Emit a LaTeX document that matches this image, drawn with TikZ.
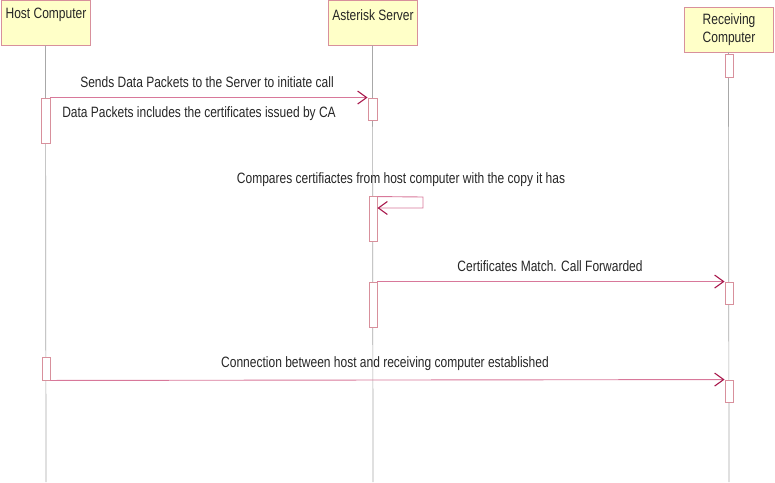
\documentclass[tikz,border=0pt]{standalone}
\usepackage{fontspec}
\setmainfont{Liberation Sans}[FakeStretch=0.80]
\usetikzlibrary{arrows.meta}
\definecolor{boxfill}{HTML}{FFFFC8}
\definecolor{boxline}{HTML}{D8909C}
\definecolor{msgline}{HTML}{D8789A}
\definecolor{tipcol}{HTML}{A8184C}
\definecolor{lifecol}{HTML}{A8A8A8}
\tikzset{
  objbox/.style={draw=boxline, fill=boxfill, line width=0.9pt, minimum width=89pt, inner sep=0pt},
  lifeline/.style={draw=lifecol, line width=0.7pt},
  actbox/.style={draw=boxline, fill=white, line width=0.9pt, minimum width=9pt, inner sep=0pt},
  msg/.style={draw=msgline, line width=0.9pt, -{Straight Barb[length=9pt,width=13pt,line width=1.1pt,color=tipcol]}},
  lbl/.style={font=\fontsize{15}{18}\selectfont, inner sep=0pt, text=black!85},
}
\begin{document}
\begin{tikzpicture}[x=1pt,y=-1pt]
\useasboundingbox (0,0) rectangle (775,482);
% objects
\node[objbox, minimum height=45pt] (host) at (45.5,22.5) {};
\node[lbl] (hostlbl) at (46,15) {Host Computer};
\node[objbox, minimum height=45pt] (srv) at (372.5,22.5) {};
\node[lbl] (srvlbl) at (373,15) {Asterisk Server};
\node[objbox, minimum height=45pt] (rcv) at (728.5,29.5) {};
\node[lbl, align=center] (rcvlbl) at (729,30) {Receiving\\Computer};
% lifeline ends
\coordinate (hostend) at (46,482);
\coordinate (srvend) at (373,482);
\coordinate (rcvend) at (729,482);
\draw[lifeline] (host.south) -- (hostend);
\draw[lifeline] (srv.south) -- (srvend);
\draw[lifeline] (rcv.south) -- (rcvend);
% activations
\node[actbox, minimum height=45pt] (h1) at (45.5,120.5) {};
\node[actbox, minimum height=22pt] (s1) at (372.5,109) {};
\node[actbox, minimum width=8pt, minimum height=23pt] (r0) at (729,65.5) {};
\node[actbox, minimum width=8pt, minimum height=45pt] (s2) at (373,218.5) {};
\node[actbox, minimum width=8pt, minimum height=45pt] (s3) at (373,304.5) {};
\node[actbox, minimum width=8pt, minimum height=22pt] (r1) at (729,293) {};
\node[actbox, minimum width=8pt, minimum height=23pt] (h2) at (46,368.5) {};
\node[actbox, minimum width=8pt, minimum height=22pt] (r2) at (729,391) {};
% messages
\draw[msg] (h1.north east) -- (s1.north west);
\node[lbl] (m1) at (207,82) {Sends Data Packets to the Server to initiate call};
\node[lbl] (m1b) at (199,114) {Data Packets includes the certificates issued by CA};
\coordinate (self1) at (423,197);
\coordinate (self2) at (423,208);
\draw[msg] ([yshift=-1pt]s2.north east) -- (self1) -- (self2) -- (s2.east |- self2);
\node[lbl] (m2) at (401,180) {Compares certifiactes from host computer with the copy it has};
\draw[msg] (s3.north east) -- (r1.north west);
\node[lbl] (m3) at (550,266) {Certificates Match. Call Forwarded};
\draw[msg] (h2.south east) -- (r2.north west);
\node[lbl] (m4) at (385,364) {Connection between host and receiving computer established};
\end{tikzpicture}
\end{document}
